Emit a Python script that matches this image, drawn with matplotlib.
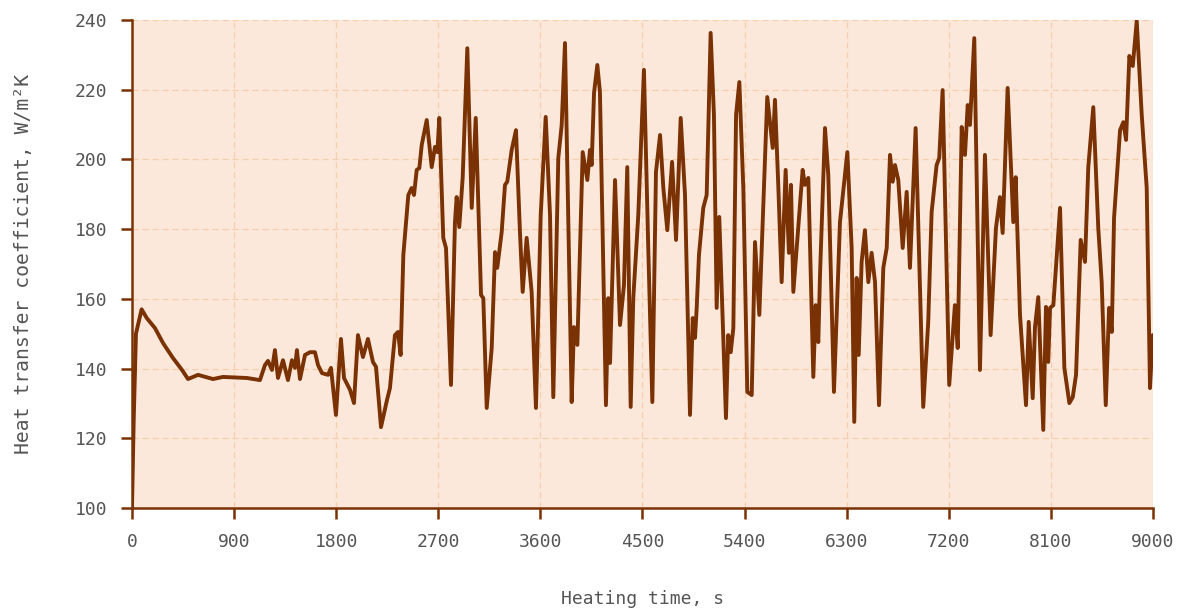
import numpy as np
import matplotlib
matplotlib.use("Agg")
import matplotlib.pyplot as plt

# heating time (s) and heat transfer coefficient (W/m2K)
time_s = [
    0, 15, 35, 85, 130, 203, 274, 362, 441, 494, 582, 714, 802, 1013, 1128,
    1172, 1199, 1234, 1260, 1287, 1331, 1375, 1410, 1437, 1454, 1481, 1525,
    1569, 1613, 1640, 1675, 1728, 1754, 1798, 1842, 1869, 1922, 1957, 1992,
    2036, 2080, 2124, 2151, 2195, 2248, 2274, 2318, 2345, 2368,
    2392, 2436, 2465, 2486, 2510, 2533, 2554, 2598, 2642, 2671, 2692, 2709,
    2744, 2768, 2812, 2847, 2862, 2885, 2915, 2956, 2995, 3030, 3077, 3097,
    3127, 3171, 3200, 3220, 3259, 3288, 3308, 3347, 3385, 3420, 3444, 3479,
    3523, 3561, 3603, 3647, 3685, 3714, 3758, 3788, 3817, 3876, 3896, 3926,
    3973, 4014, 4037, 4052, 4073, 4102, 4125, 4178, 4199, 4214, 4258, 4302,
    4337, 4366, 4396, 4419, 4463, 4513, 4551, 4587, 4619, 4655, 4684, 4719,
    4761, 4796, 4837, 4875, 4919, 4943, 4963, 4978, 4998, 5036, 5066, 5101,
    5130, 5154, 5177, 5236, 5256, 5278, 5301, 5325, 5354, 5389, 5424, 5463,
    5492, 5530, 5600, 5648, 5668, 5697, 5727, 5762, 5791, 5809, 5830, 5873,
    5912, 5932, 5962, 6006, 6027, 6050, 6065, 6109, 6138, 6188, 6241, 6306,
    6344, 6367, 6388, 6406, 6432, 6461, 6491, 6520, 6550, 6585, 6623, 6653,
    6682, 6706, 6726, 6755, 6794, 6829, 6858, 6908, 6975, 7019, 7049, 7093,
    7116, 7146, 7204, 7254, 7279, 7314, 7343, 7367, 7387, 7425, 7475, 7519,
    7569, 7616, 7651, 7675, 7719, 7746, 7769, 7790, 7828, 7881, 7905, 7940,
    7960, 7989, 8033, 8057, 8077, 8093, 8122, 8152, 8181, 8219, 8263, 8293,
    8322, 8363, 8401, 8430, 8474, 8518, 8548, 8584, 8613, 8637, 8657, 8710,
    8739, 8763, 8792, 8822, 8857, 8901, 8945, 8974, 8998,
]
htc = [
    100, 125, 150, 157, 154.5, 151.6, 147.3, 143, 139.6, 137, 138.2, 137,
    137.6, 137.3, 136.7, 141, 142.2, 139.6, 145.3, 137.3, 142.4, 136.7, 142.4,
    140.2, 145.3, 137, 143.9, 144.7, 144.7, 141, 138.7, 138.2, 140.2, 126.7,
    148.5, 137.3, 133.9, 130.1, 149.6, 143.3, 148.5, 141.9, 140.5, 123.2, 131,
    134.4, 149.6, 150.5, 143.9,
    172.6, 189.8, 191.8, 189.8, 197, 197.5, 204.1, 211.3, 197.8, 203.6, 202.1,
    211.9, 177.5, 174.6, 135.3, 182, 189.2, 180.6, 194.7, 231.9, 186.1, 211.9,
    161.1, 160.2, 128.7, 145.9, 173.4, 168.9, 179.2, 192.7, 193.6, 202.7,
    208.4, 179.2, 162, 177.5, 162, 128.7, 184, 212.2, 184, 131.8, 200.4,
    209.9, 233.4, 130.4, 151.9, 146.8, 202.1, 194.1, 202.7, 198.4, 219.1,
    227.1, 219.4, 129.5, 160.2, 141.6, 194.1, 152.5, 164, 197.8, 129, 160.2,
    184, 225.7, 174.6, 130.4, 196.4, 207, 191.8, 179.7, 199.3, 176.9, 211.9,
    189.8, 126.7, 154.5, 148.8, 157.4, 172.6, 186.1, 189.8, 236.3, 212.8,
    157.4, 183.5, 125.8, 149.6, 144.7, 151.6, 212.8, 222.2, 191.8, 133.3,
    132.4, 176.3, 155.4, 217.9, 203.3, 217.1, 192.7, 164.8, 197, 173.2, 192.7,
    162, 180.3, 197, 192.7, 194.7, 137.6, 158.2, 147.6, 166.8, 209, 195.6,
    133.3, 182, 202.1, 174.6, 124.7, 166, 143.9, 170.6, 179.7, 164.8, 173.2,
    164.8, 129.5, 168.9, 174.6, 201.3, 193.6, 198.4, 194.1, 174.6, 190.7,
    168.9, 209, 129, 153.4, 184.9, 198.4, 200.4, 219.9, 135.3, 158.2, 145.9,
    209.3, 201.3, 215.6, 209.9, 234.8, 139.6, 201.3, 149.6, 180.3, 189.2,
    178.9, 220.5, 199.3, 182, 194.9, 155.4, 129.5, 153.4, 131.5, 151.9, 160.5,
    122.4, 157.7, 141.9, 157.4, 158.2, 172.6, 186.1, 140.2, 130.1, 131.8,
    138.2, 176.9, 170.6, 197.8, 215, 180.3, 164.8, 129.5, 157.4, 150.5, 183.2,
    208.4, 210.7, 205.6, 229.7, 226.8, 239.7, 212.8, 191.8, 134.4, 149.6,
]

x_ticks = np.arange(0, 9001, 900)
y_ticks = np.arange(100, 241, 20)

line_col = "#7a3204"
bg_col = "#fce8da"
grid_col = "#f5cfad"
text_col = "#555555"

plt.rcParams["font.family"] = ["DejaVu Sans Mono", "DejaVu Sans"]

fig = plt.figure(figsize=(11.88, 6.10), dpi=100)
ax = fig.add_axes([0.1111, 0.1672, 0.8594, 0.8000])
ax.set_facecolor(bg_col)

ax.plot(time_s, htc, color=line_col, lw=2.8, solid_joinstyle="round",
        solid_capstyle="round", zorder=3)

ax.set_xlim(0, 9000)
ax.set_ylim(100, 240)
ax.set_xticks(x_ticks)
ax.set_yticks(y_ticks)
ax.grid(True, color=grid_col, lw=0.9, ls=(0, (5, 3)))
ax.set_axisbelow(True)

for s in ["top", "right"]:
    ax.spines[s].set_visible(False)
for s in ["left", "bottom"]:
    ax.spines[s].set_color(line_col)
    ax.spines[s].set_linewidth(1.8)

ax.tick_params(axis="both", colors=line_col, length=8, width=1.8,
               labelcolor=text_col, labelsize=13)
ax.tick_params(axis="y", pad=10)
ax.tick_params(axis="x", pad=10)

ax.set_xlabel("Heating time, s", fontsize=13, color=text_col, labelpad=28)
ax.set_ylabel("Heat transfer coefficient, W/m²K", fontsize=14.2,
              color=text_col, labelpad=30)

fig.savefig("out.png", dpi=100)
